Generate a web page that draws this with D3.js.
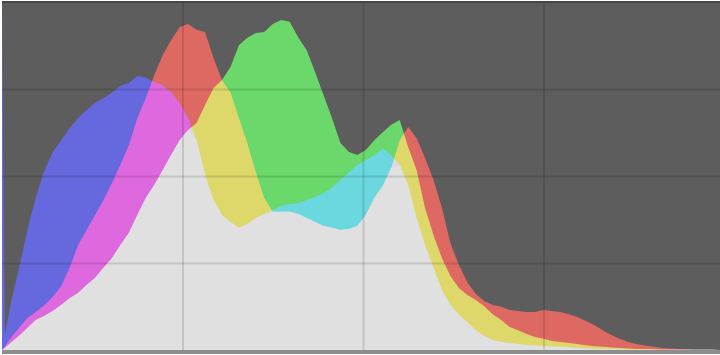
<!DOCTYPE html>
<html>
<head>
<meta charset="utf-8">
<script src="https://cdn.jsdelivr.net/npm/d3@7/dist/d3.min.js"></script>
<style>
  html, body { margin: 0; padding: 0; background: #ffffff; }
  svg { display: block; }
</style>
</head>
<body>
<svg id="chart" width="720" height="355"></svg>
<script>
// Tonal levels (0–255) at which the histogram is sampled
const levels = [0, 1, 3, 6, 9, 12, 15, 18, 21, 24, 27, 30, 33, 36, 39, 42, 45, 48, 51, 54, 57, 60,
  63, 66, 69, 72, 75, 78, 81, 84, 87, 90, 93, 96, 99, 102, 105, 108, 111, 114, 117, 120,
  123, 126, 129, 132, 135, 138, 141, 144, 147, 150, 153, 156, 159, 162, 165, 168, 171, 174,
  177, 180, 183, 186, 189, 192, 195, 198, 201, 204, 207, 210, 213, 216, 219, 222, 225, 228,
  231, 234, 237, 240, 243, 246, 249, 252, 255];

// Relative pixel counts per channel (100 = tallest bin)
const redCounts = [0, 1.1, 3.4, 6.3, 9.2, 10.9, 12.9, 15.2, 18.4, 23.6, 30.2, 34.5, 38.8, 43.1, 48.0, 53.2, 58.9, 66.7, 72.4, 79.0, 84.8, 89.1,
  92.8, 93.7, 92.0, 91.4, 83.9, 77.6, 74.1, 66.7, 59.5, 51.1, 43.7, 39.7, 39.7, 39.7, 39.1, 37.9, 36.8, 35.6, 35.1, 34.5,
  34.8, 35.6, 38.8, 43.7, 47.1, 52.3, 60.3, 64.1, 60.9, 55.2, 48.9, 40.8, 30.7, 24.4, 19.5, 16.1, 14.1, 12.9,
  12.4, 11.5, 11.2, 10.9, 10.9, 11.5, 11.2, 10.9, 10.3, 9.5, 8.3, 7.2, 5.7, 4.3, 3.2, 2.3, 1.7, 1.3,
  0.9, 0.6, 0.4, 0.3, 0.2, 0.1, 0.1, 0.1, 0];

const greenCounts = [0, 0.6, 2.0, 4.0, 6.3, 8.6, 9.8, 11.2, 12.9, 14.9, 16.4, 18.7, 20.7, 23.6, 26.4, 30.2, 33.6, 38.8, 43.7, 47.4, 51.7, 56.0,
  60.3, 63.2, 65.2, 70.4, 75.3, 77.6, 81.3, 87.6, 89.7, 91.1, 91.4, 93.7, 94.8, 94.3, 89.9, 86.2, 79.9, 73.3, 66.7, 59.5,
  56.9, 56.0, 57.5, 60.3, 62.6, 64.7, 66.1, 58.3, 51.7, 40.8, 33.0, 26.4, 21.3, 17.8, 15.8, 14.4, 12.6, 10.3,
  8.6, 6.6, 5.7, 4.6, 3.7, 3.2, 2.6, 2.3, 2.0, 1.7, 1.4, 1.1, 0.9, 0.7, 0.6, 0.4, 0.3, 0.3,
  0.2, 0.1, 0.1, 0.1, 0.1, 0.1, 0.1, 0.1, 0];

const blueCounts = [100, 4.3, 13.0, 23.5, 34.5, 44.0, 51.5, 56.9, 60.3, 63.8, 66.7, 69.0, 71.0, 72.4, 73.9, 75.9, 76.7, 78.7, 78.2, 77.0, 76.1, 74.1,
  71.0, 66.7, 60.3, 50.3, 43.1, 38.8, 36.8, 35.1, 36.2, 37.9, 39.1, 40.2, 41.4, 42.0, 42.2, 43.1, 44.0, 45.1, 46.6, 48.9,
  51.1, 53.2, 54.6, 56.0, 58.0, 56.0, 53.2, 47.4, 37.9, 30.2, 23.6, 17.2, 12.9, 10.1, 8.0, 5.7, 4.0, 2.9,
  2.3, 2.0, 1.7, 1.4, 1.3, 1.1, 1.0, 0.9, 0.7, 0.6, 0.4, 0.3, 0.2, 0.2, 0.2, 0.1, 0.1, 0.1,
  0.1, 0.1, 0.1, 0.1, 0.1, 0.1, 0.1, 0.1, 0];

// Quarter-tone gridlines
const levelGrid = [64, 128, 192];
const countGrid = [25, 50, 75];

const channels = [
  { name: "blue", counts: blueCounts, color: "rgb(102,104,222)" },
  { name: "red", counts: redCounts, color: "rgb(222,104,98)" },
  { name: "green", counts: greenCounts, color: "rgb(106,216,106)" }
];

const svg = d3.select("#chart");
const plot = { left: 2, top: 2, width: 722, height: 348 };

const x = d3.scaleLinear().domain([0, 256]).range([plot.left, plot.left + plot.width]);
const y = d3.scaleLinear().domain([0, 100]).range([plot.top + plot.height, plot.top]);

svg.append("defs").append("clipPath").attr("id", "plot-clip")
  .append("rect")
  .attr("x", plot.left).attr("y", plot.top)
  .attr("width", plot.width).attr("height", plot.height);

const g = svg.append("g")
  .attr("clip-path", "url(#plot-clip)")
  .style("isolation", "isolate");

g.append("rect")
  .attr("x", plot.left).attr("y", plot.top)
  .attr("width", plot.width).attr("height", plot.height)
  .attr("fill", "#5d5d5d");

const area = d3.area()
  .x((d, i) => x(levels[i]))
  .y0(y(0))
  .y1(d => y(d))
  .curve(d3.curveLinear);

// Each channel is lightened onto the others, so overlaps mix into yellow, cyan and magenta
channels.forEach(ch => {
  g.append("path")
    .datum(ch.counts)
    .attr("d", area)
    .attr("fill", ch.color)
    .style("mix-blend-mode", "lighten");
});

// Where all three channels overlap the histogram is a neutral light grey
const sharedCounts = levels.map((_, i) => d3.min(channels, ch => ch.counts[i]));
g.append("path")
  .datum(sharedCounts)
  .attr("d", area)
  .attr("fill", "#e0e0e0");

// Gridlines over the histogram
const gridX = d3.axisBottom(x).tickValues(levelGrid).tickSize(-plot.height).tickFormat("");
const gridY = d3.axisLeft(y).tickValues(countGrid).tickSize(-plot.width).tickFormat("");

const gx = g.append("g")
  .attr("transform", `translate(0,${plot.top + plot.height})`)
  .call(gridX);
const gy = g.append("g")
  .attr("transform", `translate(${plot.left},0)`)
  .call(gridY);
[gx, gy].forEach(sel => {
  sel.select(".domain").remove();
  sel.selectAll(".tick line")
    .attr("stroke", "rgba(0,0,0,0.12)")
    .attr("stroke-width", 2);
});

// Frame: dark top edge and a grey strip along the bottom
svg.append("rect")
  .attr("x", plot.left).attr("y", 1)
  .attr("width", plot.width).attr("height", 2)
  .attr("fill", "#454545");
svg.append("rect")
  .attr("x", plot.left).attr("y", plot.top + plot.height)
  .attr("width", plot.width).attr("height", 4)
  .attr("fill", "#8c8c8c");
</script>
</body>
</html>
